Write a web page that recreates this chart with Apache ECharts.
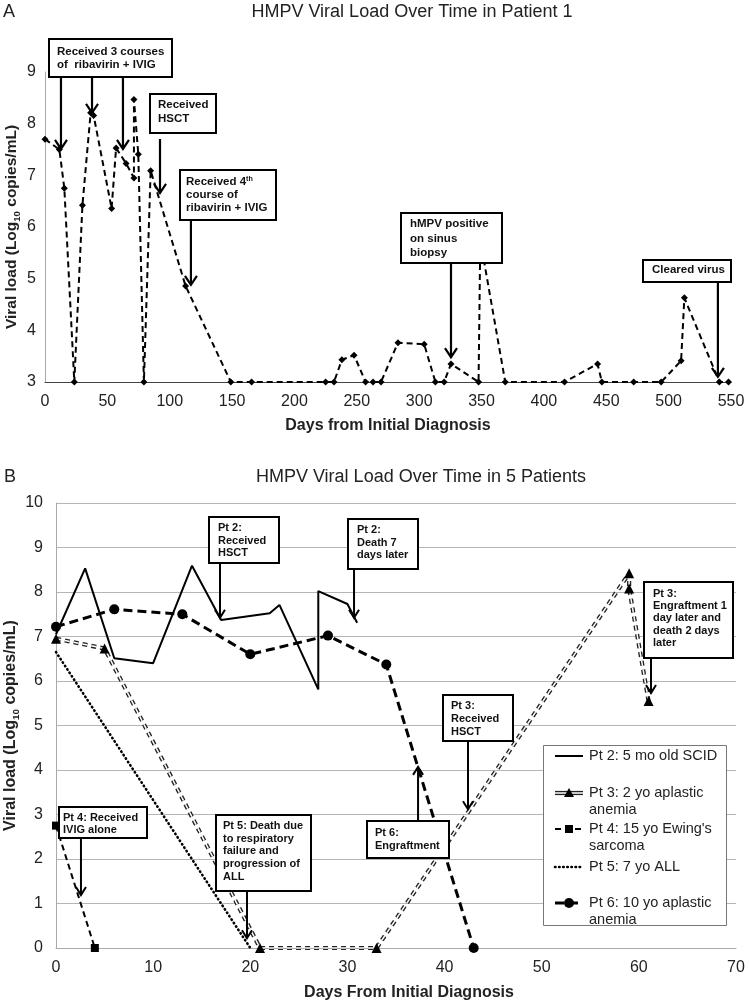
<!DOCTYPE html>
<html><head><meta charset="utf-8">
<script src="https://cdn.jsdelivr.net/npm/echarts@6/dist/echarts.min.js"></script>
<style>html,body{margin:0;padding:0;background:#fff}#c{width:749px;height:1003px}</style>
</head><body><div id="c"></div>
<script>
const FONT = '"Liberation Sans", Arial, Helvetica, sans-serif';

// ---------- Panel A: Patient 1 ----------
const p1Days = [0, 11.5, 15.5, 23.5, 30, 36.6, 39, 53.4, 57, 65, 71.3, 71.3, 74.8, 79.3, 84.7, 112.7, 149, 165.6, 225, 231.7, 238, 247.8, 257, 263, 269.4, 283, 304, 313, 320, 325.5, 347.6, 349, 369, 416.5, 443, 446.5, 472, 494, 510, 512.6, 540.7, 548];
const p1Load = [7.7, 7.5, 6.75, 3, 6.42, 8.21, 8.16, 6.36, 7.53, 7.23, 6.95, 8.47, 7.41, 3, 7.09, 4.86, 3, 3, 3, 3, 3.43, 3.52, 3, 3, 3, 3.76, 3.73, 3, 3, 3.35, 3, 5.75, 3, 3, 3.35, 3, 3, 3, 3.41, 4.63, 3, 3];

// ---------- Panel B: 5 patients ----------
const pt2Days = [0, 3, 6, 10, 14, 17, 22, 23, 27, 27, 30, 31];
const pt2Load = [7.05, 8.53, 6.51, 6.4, 8.59, 7.37, 7.52, 7.71, 5.81, 8.02, 7.73, 7.31];
const pt3Days = [0, 5, 21, 33, 59, 59, 61];
const pt3Load = [6.95, 6.73, 0, 0, 8.42, 8.08, 5.55];
const pt4Days = [0, 4];
const pt4Load = [2.75, 0];
const pt5Days = [0, 20];
const pt5Load = [6.65, 0];
const pt6Days = [0, 6, 13, 20, 28, 34, 43];
const pt6Load = [7.22, 7.61, 7.5, 6.6, 7.02, 6.37, 0];

const seriesNames = ['Pt 2: 5 mo old SCID', 'Pt 3: 2 yo aplastic anemia', "Pt 4: 15 yo Ewing's sarcoma", 'Pt 5: 7 yo ALL', 'Pt 6: 10 yo aplastic anemia'];
const legendLabels = ['Pt 2: 5 mo old SCID', 'Pt 3: 2 yo aplastic\nanemia', "Pt 4: 15 yo Ewing's\nsarcoma", 'Pt 5: 7 yo ALL', 'Pt 6: 10 yo aplastic\nanemia'];

const titleA = 'HMPV Viral Load Over Time in Patient 1';
const titleB = 'HMPV Viral Load Over Time in 5 Patients';
const xNameA = 'Days from Initial Diagnosis';
const xNameB = 'Days From Initial Diagnosis';

const zip = (xs, ys) => xs.map((x, i) => [x, ys[i]]);

const chart = echarts.init(document.getElementById('c'));

const tickLabel = { fontSize: 16, color: '#222', fontFamily: FONT };
const yNameRich = (fs) => ({
  rich: {
    a: { fontSize: fs, fontWeight: 'bold', fontFamily: FONT, color: '#222' },
    s: { fontSize: fs * 0.62, fontWeight: 'bold', fontFamily: FONT, color: '#222', verticalAlign: 'bottom', padding: [0, 0, -2, 0] }
  }
});
const yName = '{a|Viral load (Log}{s|10}{a| copies/mL)}';

const option = {
  animation: false,
  backgroundColor: '#fff',
  title: [
    { text: titleA, left: 412, top: 3, textAlign: 'center', padding: 0, textStyle: { fontSize: 18, fontWeight: 'normal', color: '#222', fontFamily: FONT } },
    { text: 'A', left: 3, top: 3, padding: 0, textStyle: { fontSize: 18, fontWeight: 'normal', color: '#222', fontFamily: FONT } },
    { text: titleB, left: 421, top: 468, textAlign: 'center', padding: 0, textStyle: { fontSize: 18, fontWeight: 'normal', color: '#222', fontFamily: FONT } },
    { text: 'B', left: 4, top: 468, padding: 0, textStyle: { fontSize: 18, fontWeight: 'normal', color: '#222', fontFamily: FONT } }
  ],
  grid: [
    { left: 45, right: 18, top: 72, bottom: 621, containLabel: false, outerBoundsMode: 'none' },
    { left: 56, right: 13, top: 503, bottom: 55, containLabel: false, outerBoundsMode: 'none' }
  ],
  xAxis: [
    { gridIndex: 0, type: 'value', min: 0, max: 550, interval: 50,
      axisLine: { show: true, onZero: false, lineStyle: { color: '#444', width: 1 } },
      axisTick: { show: false }, splitLine: { show: false },
      axisLabel: Object.assign({ margin: 12, showMinLabel: true, showMaxLabel: true }, tickLabel),
      name: xNameA, nameLocation: 'middle', nameGap: 36, nameMoveOverlap: false,
      nameTextStyle: { fontSize: 16, fontWeight: 'bold', color: '#222', fontFamily: FONT } },
    { gridIndex: 1, type: 'value', min: 0, max: 70, interval: 10,
      axisLine: { show: true, lineStyle: { color: '#aaa', width: 1 } },
      axisTick: { show: false }, splitLine: { show: false },
      axisLabel: Object.assign({ margin: 12, showMinLabel: true, showMaxLabel: true }, tickLabel),
      name: xNameB, nameLocation: 'middle', nameGap: 37, nameMoveOverlap: false,
      nameTextStyle: { fontSize: 16, fontWeight: 'bold', color: '#222', fontFamily: FONT, padding: [0, 0, 0, 26] } }
  ],
  yAxis: [
    { gridIndex: 0, type: 'value', min: 3, max: 9, interval: 1,
      axisLine: { show: true, lineStyle: { color: '#aaa', width: 1 } },
      axisTick: { show: false }, splitLine: { show: false },
      axisLabel: Object.assign({ margin: 9 }, tickLabel),
      name: yName, nameLocation: 'middle', nameGap: 25, nameMoveOverlap: false, nameTextStyle: yNameRich(15.5) },
    { gridIndex: 1, type: 'value', min: 0, max: 10, interval: 1,
      axisLine: { show: true, lineStyle: { color: '#aaa', width: 1 } },
      axisTick: { show: false }, splitLine: { show: true, lineStyle: { color: '#b5b5b5', width: 1 } },
      axisLabel: Object.assign({ margin: 13 }, tickLabel),
      name: yName, nameLocation: 'middle', nameGap: 37, nameMoveOverlap: false, nameTextStyle: yNameRich(16) }
  ],
  series: [
    { name: 'Patient 1', type: 'line', xAxisIndex: 0, yAxisIndex: 0, data: zip(p1Days, p1Load),
      symbol: 'diamond', symbolSize: 7, showSymbol: true, clip: false, z: 3,
      itemStyle: { color: '#000' }, lineStyle: { color: '#000', width: 2, type: [6, 4] } },

    { name: seriesNames[0], type: 'line', xAxisIndex: 1, yAxisIndex: 1, data: zip(pt2Days, pt2Load),
      symbol: 'none', clip: false, z: 3, lineStyle: { color: '#000', width: 2 } },
    { name: seriesNames[1], type: 'line', xAxisIndex: 1, yAxisIndex: 1, data: zip(pt3Days, pt3Load),
      symbol: 'none', clip: false, z: 3, lineStyle: { color: '#222', width: 4.2, type: [5, 4] } },
    { name: seriesNames[1] + ' ', type: 'line', xAxisIndex: 1, yAxisIndex: 1, data: zip(pt3Days, pt3Load),
      symbol: 'triangle', symbolSize: 10, showSymbol: true, clip: false, z: 4, silent: true,
      itemStyle: { color: '#000' }, lineStyle: { color: '#fff', width: 1.5, type: [5, 4] } },
    { name: seriesNames[2], type: 'line', xAxisIndex: 1, yAxisIndex: 1, data: zip(pt4Days, pt4Load),
      symbol: 'rect', symbolSize: 8, showSymbol: true, clip: false, z: 3,
      itemStyle: { color: '#000' }, lineStyle: { color: '#000', width: 2, type: [6, 4] } },
    { name: seriesNames[3], type: 'line', xAxisIndex: 1, yAxisIndex: 1, data: zip(pt5Days, pt5Load),
      symbol: 'none', clip: false, z: 3, lineStyle: { color: '#000', width: 2.6, type: [0.5, 3.6], cap: 'round' } },
    { name: seriesNames[4], type: 'line', xAxisIndex: 1, yAxisIndex: 1, data: zip(pt6Days, pt6Load),
      symbol: 'circle', symbolSize: 10, showSymbol: true, clip: false, z: 3,
      itemStyle: { color: '#000' }, lineStyle: { color: '#000', width: 3, type: [9, 5] } }
  ]
};
chart.setOption(option);

// ---------- Annotations (boxes in layout pixels, arrow tips in data coordinates) ----------
const annotations = [
  { g: 0, box: [49, 39, 123, 38], tx: 57, ty: 45.5, lh: 13, fs: 11.5, text: 'Received 3 courses\nof  ribavirin + IVIG',
    arrows: [{ tail: 77, tip: [12.8, 7.51] }, { tail: 77, tip: [37.7, 8.21] }, { tail: 77, tip: [62.5, 7.51] }] },
  { g: 0, box: [150, 94, 66, 39], tx: 158, ty: 98, lh: 14, fs: 11.5, text: 'Received\nHSCT',
    arrows: [{ tail: 139, tip: [92.2, 6.66] }] },
  { g: 0, box: [180, 170, 96, 50], tx: 186, ty: 175.5, lh: 13, fs: 11.5, rich: true,
    text: '{n|Received 4}{sup|th}\n{n|course of}\n{n|ribavirin + IVIG}',
    arrows: [{ tail: 220, tip: [117.0, 4.88] }] },
  { g: 0, box: [401, 213, 101, 50], tx: 410, ty: 216.75, lh: 14.5, fs: 11.5, text: 'hMPV positive\non sinus\nbiopsy',
    arrows: [{ tail: 263, tip: [325.5, 3.48] }] },
  { g: 0, box: [643, 260, 88, 22], tx: 652, ty: 263.5, lh: 13, fs: 11.5, text: 'Cleared virus',
    arrows: [{ tail: 282, tip: [539.5, 3.10] }] },

  { g: 1, box: [209, 517, 70, 46], tx: 218, ty: 521.75, lh: 12.5, fs: 11, text: 'Pt 2:\nReceived\nHSCT',
    arrows: [{ tail: 563, tip: [16.88, 7.42] }] },
  { g: 1, box: [348, 519, 70, 50], tx: 357, ty: 523.75, lh: 12.5, fs: 11, text: 'Pt 2:\nDeath 7\ndays later',
    arrows: [{ tail: 569, tip: [30.68, 7.42] }] },
  { g: 1, box: [644, 582, 89, 76], tx: 653, ty: 587.9, lh: 12.2, fs: 11, text: 'Pt 3:\nEngraftment 1\nday later and\ndeath 2 days\nlater',
    arrows: [{ tail: 658, tip: [61.25, 5.73] }] },
  { g: 1, box: [443, 695, 70, 46], tx: 451, ty: 699.6, lh: 12.8, fs: 11, text: 'Pt 3:\nReceived\nHSCT',
    arrows: [{ tail: 741, tip: [42.41, 3.12] }] },
  { g: 1, box: [367, 821, 82, 37], tx: 375, ty: 826.6, lh: 12.8, fs: 11, text: 'Pt 6:\nEngraftment',
    arrows: [{ tail: 821, tip: [37.27, 4.07] }] },
  { g: 1, box: [59, 807, 88, 31], tx: 63, ty: 811.85, lh: 12.3, fs: 11, text: 'Pt 4: Received\nIVIG alone',
    arrows: [{ tail: 838, tip: [2.57, 1.19] }] },
  { g: 1, box: [216, 815, 95, 76], tx: 223, ty: 819.65, lh: 12.7, fs: 11, text: 'Pt 5: Death due\nto respiratory\nfailure and\nprogression of\nALL',
    arrows: [{ tail: 891, tip: [19.66, 0.22] }] }
];

const graphics = [];
annotations.forEach(a => {
  const hw = a.g === 0 ? 6 : 5, hl = a.g === 0 ? 9 : 8, lw = a.g === 0 ? 2.2 : 2;
  a.arrows.forEach(ar => {
    const p = chart.convertToPixel({ gridIndex: a.g }, ar.tip);
    const x = p[0], ty = p[1];
    const dir = ty > ar.tail ? 1 : -1;
    graphics.push({ type: 'line', z: 50, silent: true,
      shape: { x1: x, y1: ar.tail, x2: x, y2: ty - dir * 1 }, style: { stroke: '#000', lineWidth: lw } });
    graphics.push({ type: 'polyline', z: 50, silent: true,
      shape: { points: [[x - hw, ty - dir * hl], [x, ty], [x + hw, ty - dir * hl]] },
      style: { stroke: '#000', lineWidth: lw, fill: null } });
  });
  const b = a.box;
  graphics.push({ type: 'rect', z: 60, silent: true,
    shape: { x: b[0], y: b[1], width: b[2], height: b[3] },
    style: { fill: '#fff', stroke: '#000', lineWidth: 2 } });
  const st = { x: a.tx, y: a.ty, text: a.text, fill: '#111', fontSize: a.fs, fontWeight: 'bold',
    fontFamily: FONT, lineHeight: a.lh, verticalAlign: 'top', align: 'left' };
  if (a.rich) {
    st.rich = {
      n: { fontSize: a.fs, fontWeight: 'bold', fontFamily: FONT, fill: '#111', lineHeight: a.lh },
      sup: { fontSize: a.fs * 0.62, fontWeight: 'bold', fontFamily: FONT, fill: '#111', verticalAlign: 'top', lineHeight: a.lh }
    };
  }
  graphics.push({ type: 'text', z: 61, silent: true, style: st });
});

// ---------- Legend box (panel B) ----------
const lgX0 = 555, lgX1 = 583, lgMid = 569, lgText = 589;
const lgRows = [756, 793, 829, 867, 903];
graphics.push({ type: 'rect', z: 60, silent: true, shape: { x: 543.5, y: 745.5, width: 183, height: 180 },
  style: { fill: '#fff', stroke: '#777', lineWidth: 1 } });
// Pt 2
graphics.push({ type: 'line', z: 61, silent: true, shape: { x1: lgX0, y1: lgRows[0], x2: lgX1, y2: lgRows[0] }, style: { stroke: '#000', lineWidth: 2 } });
// Pt 3
graphics.push({ type: 'line', z: 61, silent: true, shape: { x1: lgX0, y1: lgRows[1], x2: lgX1, y2: lgRows[1] }, style: { stroke: '#222', lineWidth: 4.2 } });
graphics.push({ type: 'line', z: 62, silent: true, shape: { x1: lgX0, y1: lgRows[1], x2: lgX1, y2: lgRows[1] }, style: { stroke: '#fff', lineWidth: 1.5 } });
graphics.push({ type: 'polygon', z: 63, silent: true, shape: { points: [[lgMid, lgRows[1] - 5], [lgMid + 5, lgRows[1] + 4], [lgMid - 5, lgRows[1] + 4]] }, style: { fill: '#000' } });
// Pt 4
graphics.push({ type: 'line', z: 61, silent: true, shape: { x1: lgX0, y1: lgRows[2], x2: lgX1, y2: lgRows[2] }, style: { stroke: '#000', lineWidth: 2, lineDash: [6, 4] } });
graphics.push({ type: 'rect', z: 63, silent: true, shape: { x: lgMid - 4, y: lgRows[2] - 4, width: 8, height: 8 }, style: { fill: '#000' } });
// Pt 5
graphics.push({ type: 'line', z: 61, silent: true, shape: { x1: lgX0, y1: lgRows[3], x2: lgX1, y2: lgRows[3] }, style: { stroke: '#000', lineWidth: 2.6, lineDash: [0.5, 3.6], lineCap: 'round' } });
// Pt 6
graphics.push({ type: 'line', z: 61, silent: true, shape: { x1: lgX0, y1: lgRows[4], x2: lgX1, y2: lgRows[4] }, style: { stroke: '#000', lineWidth: 3, lineDash: [9, 5] } });
graphics.push({ type: 'circle', z: 63, silent: true, shape: { cx: lgMid, cy: lgRows[4], r: 5 }, style: { fill: '#000' } });
legendLabels.forEach((t, i) => {
  graphics.push({ type: 'text', z: 63, silent: true,
    style: { x: lgText, y: lgRows[i] - 8.5, text: t, fill: '#222', fontSize: 14.5, fontFamily: FONT, lineHeight: 17, verticalAlign: 'top', align: 'left' } });
});

chart.setOption({ graphic: graphics });
</script>
</body></html>
